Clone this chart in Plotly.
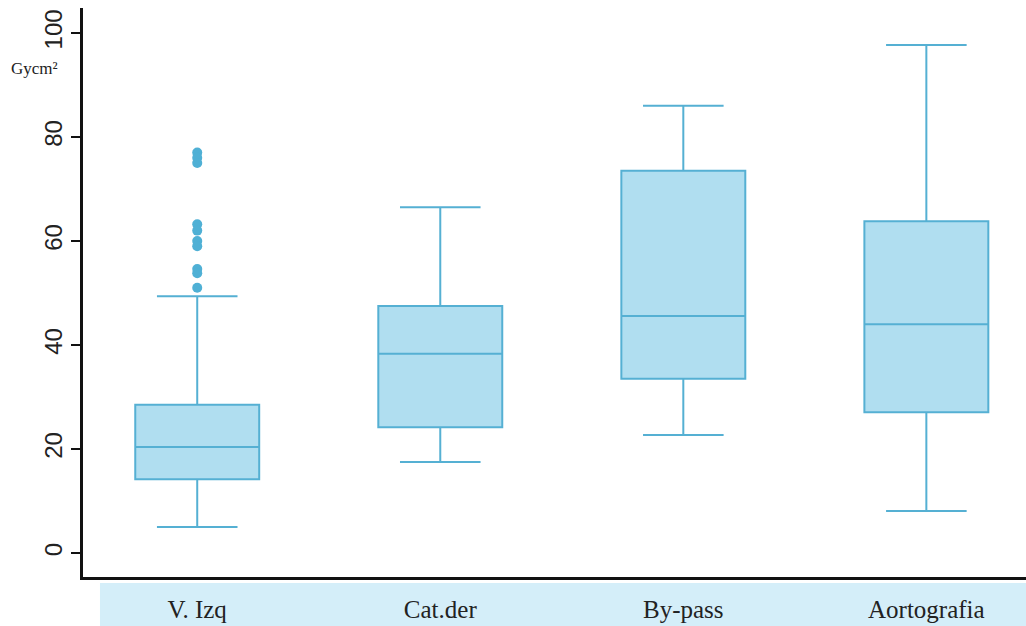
import plotly.graph_objects as go

# Dose-area product by procedure (Gy·cm²)
categories = ["V. Izq", "Cat.der", "By-pass", "Aortografia"]
lower_whisker = [5.0, 17.5, 22.7, 8.1]
q1 = [14.2, 24.2, 33.5, 27.1]
median = [20.4, 38.3, 45.6, 44.0]
q3 = [28.5, 47.5, 73.5, 63.8]
upper_whisker = [49.4, 66.5, 86.0, 97.7]

# Values beyond the upper whisker for V. Izq
outlier_values = [77.0, 76.0, 75.0, 63.2, 62.0, 60.0, 59.0, 54.6, 53.8, 51.0]

y_ticks = [0, 20, 40, 60, 80, 100]

line_color = "#55b0d3"
fill_color = "#b0def0"

fig = go.Figure()

fig.add_trace(go.Box(
    x=categories,
    q1=q1,
    median=median,
    q3=q3,
    lowerfence=lower_whisker,
    upperfence=upper_whisker,
    width=0.51,
    whiskerwidth=0.65,
    fillcolor=fill_color,
    line=dict(color=line_color, width=2),
    boxpoints=False,
    showlegend=False,
    hoverinfo="skip",
))

fig.add_trace(go.Scatter(
    x=[categories[0]] * len(outlier_values),
    y=outlier_values,
    mode="markers",
    marker=dict(color="#4fb0d5", size=10, line=dict(width=0)),
    showlegend=False,
    hoverinfo="skip",
))

# Light blue band behind the category labels
fig.add_shape(
    type="rect", xref="paper", yref="paper",
    x0=0.018, x1=1.0, y0=-0.0105, y1=-0.09,
    fillcolor="#d4eef9", line=dict(width=0), layer="below",
)

fig.add_annotation(
    text="Gycm²", xref="paper", yref="paper",
    x=-0.079, y=0.893, xanchor="left", yanchor="middle",
    showarrow=False,
    font=dict(family="Liberation Serif", size=17, color="#222222"),
)

fig.update_layout(
    width=1026, height=626,
    margin=dict(l=83, r=0, t=8, b=49),
    paper_bgcolor="white",
    plot_bgcolor="white",
)

fig.update_xaxes(
    type="category",
    range=[-0.47, 3.41],
    showline=True, linecolor="#111111", linewidth=2.5,
    ticks="", showgrid=False, zeroline=False,
    tickfont=dict(family="Liberation Serif", size=25, color="#222222"),
    ticklabelstandoff=8,
)

fig.update_yaxes(
    range=[-4.6, 104.8],
    tickvals=y_ticks,
    ticktext=[str(v) for v in y_ticks],
    tickangle=-90,
    showline=True, linecolor="#111111", linewidth=2.5,
    ticks="outside", ticklen=9, tickwidth=2, tickcolor="#111111",
    showgrid=False, zeroline=False,
    tickfont=dict(family="Liberation Sans", size=24, color="#222222"),
)

fig.write_html("out.html")
